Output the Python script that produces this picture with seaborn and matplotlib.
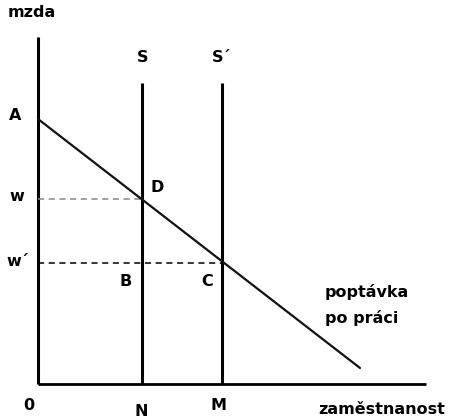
import matplotlib
matplotlib.use("Agg")
import matplotlib.pyplot as plt
import seaborn as sns
import pandas as pd

sns.set_theme(style="white")
plt.rcParams['font.family'] = ['DejaVu Sans']

# Data (diagram units)
demand_x = [0, 322]
demand_y = [265, 16]
wage_A = 265
N_pos = 104
M_pos = 184
w_level = 185
w2_level = 121
supply_top = 301
x_axis_end = 388
y_axis_top = 347

demand = pd.DataFrame({"x": demand_x, "y": demand_y})

fig = plt.figure(figsize=(4.5, 4.17), dpi=100)
ax = fig.add_axes([0, 0, 1, 1])
ax.set_xlim(-38, 412)
ax.set_ylim(-33, 384)
ax.axis("off")

# axes lines
ax.plot([0, 0], [0, y_axis_top], color="black", lw=2.2, solid_capstyle="butt")
ax.plot([0, x_axis_end], [0, 0], color="black", lw=2.0, solid_capstyle="butt")

# supply lines
ax.plot([N_pos, N_pos], [0, supply_top], color="black", lw=2.2, solid_capstyle="butt")
ax.plot([M_pos, M_pos], [0, supply_top], color="black", lw=2.2, solid_capstyle="butt")

# dashed wage lines
ax.plot([0, N_pos], [w_level, w_level], color="#888888", lw=1.1, ls=(0, (4, 3)))
ax.plot([0, M_pos], [w2_level, w2_level], color="black", lw=1.1, ls=(0, (4, 3)))

# demand line
sns.lineplot(data=demand, x="x", y="y", ax=ax, color="#111111", lw=1.6)

fs = 11.5
kw = dict(fontsize=fs, fontweight="bold", color="black")
ax.text(-30, 372, "mzda", ha="left", va="center", **kw)
ax.text(105, 327, "S", ha="center", va="center", **kw)
ax.text(184, 327, "S´", ha="center", va="center", **kw)
ax.text(-23, 269, "A", ha="center", va="center", **kw)
ax.text(-21, 188, "w", ha="center", va="center", **kw)
ax.text(-20, 123, "w´", ha="center", va="center", **kw)
ax.text(119, 197, "D", ha="center", va="center", **kw)
ax.text(88, 102, "B", ha="center", va="center", **kw)
ax.text(169, 103, "C", ha="center", va="center", **kw)
ax.text(287, 92, "poptávka", ha="left", va="center", **kw)
ax.text(287, 66, "po práci", ha="left", va="center", **kw)
ax.text(-9, -21, "0", ha="center", va="center", **kw)
ax.text(103, -27, "N", ha="center", va="center", **kw)
ax.text(180, -22, "M", ha="center", va="center", **kw)
ax.text(280, -26, "zaměstnanost", ha="left", va="center", **kw)

fig.savefig("out.png", dpi=100, facecolor="white")
